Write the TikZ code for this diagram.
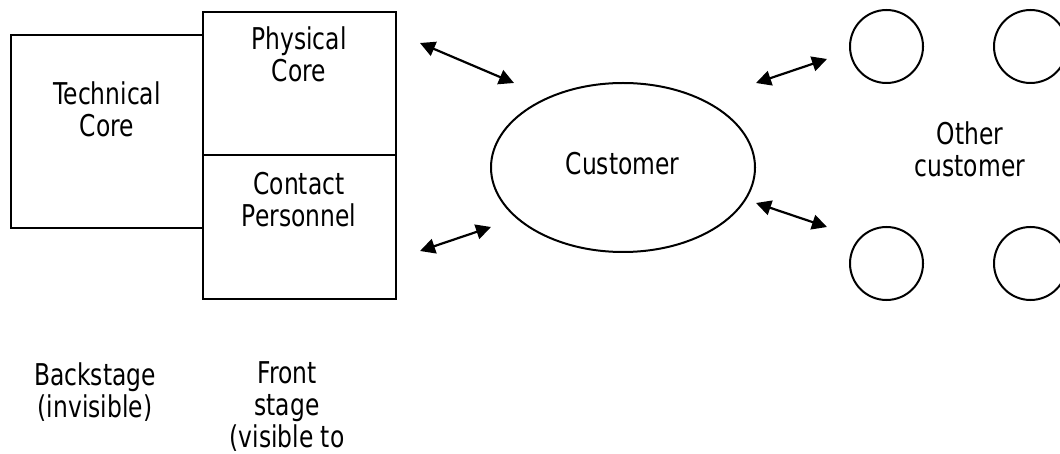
\documentclass[tikz,border=0pt]{standalone}
\usepackage{fontspec}
\setmainfont{DejaVu Sans}[FakeStretch=0.78]
\usetikzlibrary{arrows.meta,shapes.geometric}
\begin{document}
\begin{tikzpicture}[x=1pt,y=-1pt,
  outline/.style={draw=black,line width=2pt},
  lbl/.style={font=\fontsize{30}{32}\selectfont,align=center,anchor=base,inner sep=0pt},
  twoway/.style={line width=2.2pt,{Triangle[length=15pt,width=15pt]}-{Triangle[length=15pt,width=15pt]}}]
  \useasboundingbox (0,0) rectangle (1060,454);
  \clip (0,0) rectangle (1060,454);

  % backstage and front-stage blocks
  \draw[outline] (11,35) rectangle (203,228);
  \draw[outline] (203,12) rectangle (396,299);
  \draw[outline] (203,155) -- (396,155);

  % multi-line labels are placed by the baseline of their last line
  \node[lbl] (tech) at (107,137) {Technical\\Core};
  \node[lbl] (phys) at (299,82) {Physical\\Core};
  \node[lbl] (contact) at (299,227) {Contact\\Personnel};

  % the customer
  \node[outline,ellipse,minimum width=264,minimum height=169,inner sep=0pt] (cust) at (623,167.5) {};
  \node[lbl] (custtext) at (622.5,175) {Customer};

  % other customers
  \node[outline,circle,minimum size=73,inner sep=0pt] (o1) at (886.5,46.5) {};
  \node[outline,circle,minimum size=73,inner sep=0pt] (o2) at (1030.5,46.5) {};
  \node[outline,circle,minimum size=73,inner sep=0pt] (o3) at (886.5,263.5) {};
  \node[outline,circle,minimum size=73,inner sep=0pt] (o4) at (1030.5,263.5) {};
  \node[lbl] (others) at (970,177) {Other\\customer};

  % interaction arrows
  \coordinate (a1s) at (420,43);  \coordinate (a1e) at (514,83);
  \coordinate (a2s) at (420,251); \coordinate (a2e) at (491,227);
  \coordinate (a3s) at (756,83);  \coordinate (a3e) at (827,59);
  \coordinate (a4s) at (756,203); \coordinate (a4e) at (827,227);
  \draw[twoway] (a1s) -- (a1e);
  \draw[twoway] (a2s) -- (a2e);
  \draw[twoway] (a3s) -- (a3e);
  \draw[twoway] (a4s) -- (a4e);

  % stage captions
  \node[lbl] (back) at (95,417) {Backstage\\(invisible)};
  \node[lbl] (front) at (287,447) {Front\\stage\\(visible to};
\end{tikzpicture}
\end{document}
